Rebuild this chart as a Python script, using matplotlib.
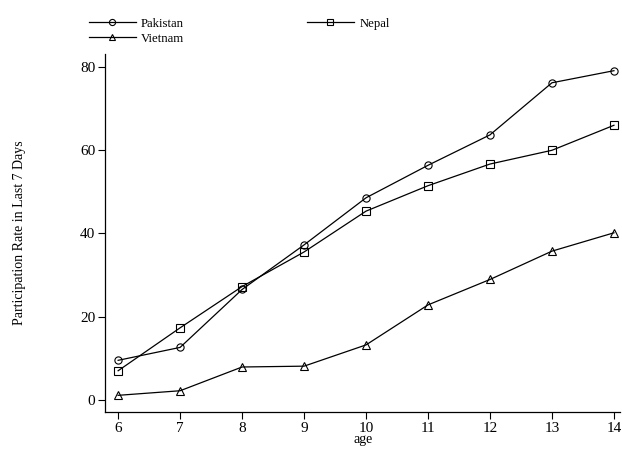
import matplotlib.pyplot as plt

plt.rcParams["font.family"] = ["Liberation Serif", "DejaVu Serif"]

age = [6, 7, 8, 9, 10, 11, 12, 13, 14]
pakistan = [9.5, 12.6, 26.5, 37.2, 48.5, 56.3, 63.6, 76.1, 79.0]
nepal = [7.0, 17.3, 27.2, 35.5, 45.3, 51.4, 56.6, 59.9, 65.9]
vietnam = [1.1, 2.2, 7.9, 8.1, 13.2, 22.8, 28.9, 35.7, 40.1]

yticks = [0, 20, 40, 60, 80]

fig = plt.figure(figsize=(6.22, 4.49), dpi=100)
ax = fig.add_axes([0.169, 0.0824, 0.828, 0.7973])

style = dict(color="black", linewidth=0.9, markersize=5.2,
             markerfacecolor="none", markeredgecolor="black", markeredgewidth=0.8)
l1, = ax.plot(age, pakistan, marker="o", label="Pakistan", **style)
l2, = ax.plot(age, nepal, marker="s", label="Nepal", **style)
l3, = ax.plot(age, vietnam, marker="^", label="Vietnam", **style)

ax.set_xlim(5.79, 14.1)
ax.set_ylim(-2.9, 83)
ax.set_xticks(age)
ax.set_yticks(yticks)
ax.tick_params(direction="out", length=5, width=0.8, labelsize=11, pad=2)
for s in ["top", "right"]:
    ax.spines[s].set_visible(False)
for s in ["left", "bottom"]:
    ax.spines[s].set_linewidth(0.9)

ax.set_xlabel("age", fontsize=10, labelpad=-1)
ax.set_ylabel("Participation Rate in Last 7 Days", fontsize=10, labelpad=39)

fig.legend(handles=[l1, l3, l2], loc="upper left", bbox_to_anchor=(0.13, 0.978),
           ncol=2, frameon=False, fontsize=9.2, handlelength=3.7,
           columnspacing=9.6, handletextpad=0.4, labelspacing=0.25,
           borderaxespad=0.2, markerscale=0.85)

fig.savefig("out.png", dpi=100)
